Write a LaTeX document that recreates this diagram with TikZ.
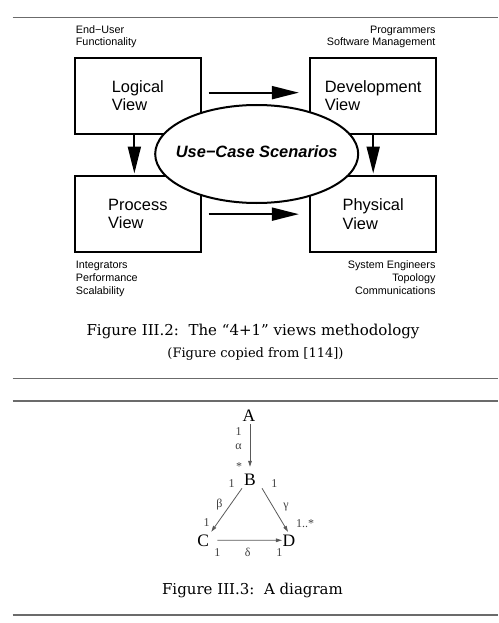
\documentclass[tikz,border=0pt]{standalone}
\usepackage{fontspec}
\usetikzlibrary{arrows.meta,shapes.geometric}
\newfontfamily\lsans{Liberation Sans}
\newfontfamily\lserif{Liberation Serif}
\newfontfamily\capfont{DejaVu Serif}
\begin{document}
\begin{tikzpicture}[x=1pt,y=-1pt,
  rulestyle/.style={draw=black!58, line width=1.3pt},
  viewbox/.style={draw, line width=2pt, minimum width=125.7pt, minimum height=76.3pt,
    inner sep=0pt, align=left, font=\lsans\fontsize{16.4}{18.5}\selectfont},
  usecase/.style={draw, ellipse, line width=2pt, fill=white, minimum width=203pt,
    minimum height=98pt, inner sep=0pt},
  uctext/.style={inner sep=0pt, font=\lsans\bfseries\itshape\fontsize{16.4}{18}\selectfont},
  biga/.style={line width=2pt, -{Triangle[length=27pt,width=13pt]}},
  role/.style={font=\lsans\fontsize{10.8}{12.5}\selectfont, inner sep=0pt},
  capbig/.style={font=\capfont\fontsize{15}{18}\selectfont, inner sep=0pt, anchor=base},
  capsmall/.style={font=\capfont\fontsize{13}{15}\selectfont, inner sep=0pt, anchor=base},
  letter/.style={font=\lserif\fontsize{17.5}{20}\selectfont, inner sep=0pt, anchor=base},
  mult/.style={font=\lserif\fontsize{12}{14}\selectfont, inner sep=0pt, text=black!75},
  thin/.style={draw=black!65, line width=0.8pt, -{Triangle[length=6pt,width=3.6pt]}}
]
\useasboundingbox (0,0) rectangle (498,623);

% rules
\draw[rulestyle] (12.7,17.5) -- (498,17.5);
\draw[rulestyle] (12.7,378.3) -- (498,378.3);
\draw[rulestyle] (12.7,401) -- (498,401);
\draw[rulestyle] (12.7,615) -- (498,615);

% 4+1 view boxes
\node[viewbox] (log) at (137.85,95.85) {Logical\\View};
\node[viewbox] (dev) at (373.2,95.85) {Development\\View};
\node[viewbox] (proc) at (137.85,214.15) {Process\\View};
\node[viewbox] (phys) at (373.2,214.15) {Physical\\View};

\draw[biga] ([xshift=7pt,yshift=3.2pt]log.east) -- ([xshift=-10.5pt,yshift=3.2pt]dev.west);
\draw[biga] ([xshift=7pt]proc.east) -- ([xshift=-10.5pt]phys.west);
\draw[biga] ([xshift=-3.5pt]log.south) -- ([xshift=-3.5pt,yshift=1.5pt]proc.north);
\draw[biga] (dev.south) -- ([yshift=1.5pt]phys.north);

\node[usecase] (uc) at (256.7,154) {};
\node[uctext] (uct) at ([yshift=2pt]uc.center) {Use−Case Scenarios};

% role labels
\node[role, anchor=base west] (r1a) at (75.7,33.3) {End−User};
\node[role, anchor=base west] (r1b) at (75.7,45.8) {Functionality};
\node[role, anchor=base east] (r2a) at (435.7,33.3) {Programmers};
\node[role, anchor=base east] (r2b) at (435.7,45.8) {Software Management};
\node[role, anchor=base west] (r3a) at (75.7,268.5) {Integrators};
\node[role, anchor=base west] (r3b) at (75.7,281.3) {Performance};
\node[role, anchor=base west] (r3c) at (75.7,294) {Scalability};
\node[role, anchor=base east] (r4a) at (435.7,268.5) {System Engineers};
\node[role, anchor=base east] (r4b) at (435.7,281.3) {Topology};
\node[role, anchor=base east] (r4c) at (435.7,294) {Communications};

% captions
\node[capbig] (cap2) at (253,335) {Figure III.2:\ \ The “4+1” views methodology};
\node[capsmall] (cap2b) at (255.5,357.3) {(Figure copied from [114])};
\node[capbig] (cap3) at (252.5,594.5) {Figure III.3:\ \ A diagram};

% small diagram
\node[letter] (A) at (249,421.7) {A};
\node[letter] (B) at (250,485) {B};
\node[letter] (C) at (203.3,546) {C};
\node[letter] (D) at (289,546) {D};

\draw[thin] ([xshift=1pt,yshift=-2.3pt]A.south) -- ([yshift=6.5pt]B.north);
\draw[thin] ([xshift=-8pt,yshift=-3pt]B.south) -- ([xshift=8pt,yshift=2.5pt]C.north);
\draw[thin] ([xshift=12pt,yshift=-3pt]B.south) -- ([xshift=-1pt,yshift=2.5pt]D.north);
\draw[thin] ([xshift=8pt]C.east) -- ([xshift=-0.5pt]D.west);

\node[mult] (m1) at (238.5,431.7) {1};
\node[mult] (m2) at (238.5,446.7) {α};
\node[mult] (m3) at (239,466.5) {*};
\node[mult] (m4) at (231.7,483.3) {1};
\node[mult] (m5) at (274.3,483.3) {1};
\node[mult] (m6) at (219.3,505) {β};
\node[mult] (m7) at (286,506.7) {γ};
\node[mult] (m8) at (206.7,522.3) {1};
\node[mult] (m9) at (305,524) {1..*};
\node[mult] (m10) at (217.3,552.7) {1};
\node[mult] (m11) at (247.7,552.7) {δ};
\node[mult] (m12) at (279.3,552.7) {1};
\end{tikzpicture}
\end{document}
